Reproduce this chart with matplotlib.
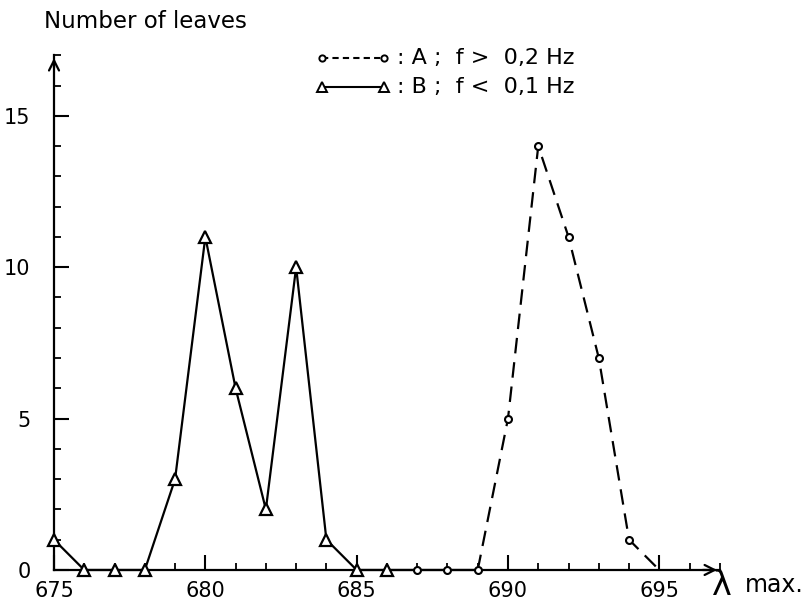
import matplotlib
matplotlib.use("Agg")
import matplotlib.pyplot as plt
from matplotlib.ticker import MultipleLocator

# series B (triangles, solid line)
b_x = [675, 676, 677, 678, 679, 680, 681, 682, 683, 684, 685, 686]
b_y = [1, 0, 0, 0, 3, 11, 6, 2, 10, 1, 0, 0]

# series A (circles, dashed line)
a_x = [687, 688, 689, 690, 691, 692, 693, 694, 695]
a_y = [0, 0, 0, 5, 14, 11, 7, 1, 0]

plt.rcParams["font.family"] = ["DejaVu Sans"]

fig = plt.figure(figsize=(8.11, 6.07), dpi=100)
ax = fig.add_axes([0.0666, 0.061, 0.821, 0.848])

lw = 1.6
# solid part joining the zero points between the two groups
ax.plot(b_x + a_x[:3], b_y + a_y[:3], color="black", lw=lw, zorder=2, clip_on=False)
ax.plot(a_x[2:], a_y[2:], color="black", lw=lw, dashes=(7, 4), zorder=2, clip_on=False)

ax.plot(b_x, b_y, ls="none", marker="^", ms=8, mfc="white", mec="black", mew=1.6,
        zorder=3, clip_on=False)
ax.plot(a_x[:-1], a_y[:-1], ls="none", marker="o", ms=5, mfc="white", mec="black", mew=1.5,
        zorder=3, clip_on=False)

ax.set_xlim(675, 697)
ax.set_ylim(0, 17)
for s in ["top", "right"]:
    ax.spines[s].set_visible(False)
for s in ["left", "bottom"]:
    ax.spines[s].set_linewidth(1.6)

ax.xaxis.set_minor_locator(MultipleLocator(1))
ax.yaxis.set_minor_locator(MultipleLocator(1))
ax.set_xticks([675, 680, 685, 690, 695])
ax.set_yticks([0, 5, 10, 15])
ax.tick_params(which="major", direction="in", length=11, width=1.5, labelsize=15)
ax.tick_params(which="minor", direction="in", length=5, width=1.3)
ax.tick_params(axis="y", which="major", pad=17)
ax.tick_params(axis="x", which="major", pad=8)

# arrow heads on the axes
ax.annotate("", xy=(1.0, 0), xytext=(0.97, 0), xycoords="axes fraction",
            arrowprops=dict(arrowstyle="->", lw=1.6, color="black", mutation_scale=18))
ax.annotate("", xy=(0, 1.0), xytext=(0, 0.97), xycoords="axes fraction",
            arrowprops=dict(arrowstyle="->", lw=1.6, color="black", mutation_scale=18))

fig.text(0.054, 0.965, "Number of leaves", fontsize=16.5, va="center", ha="left")
fig.text(0.878, 0.036, "λ", fontsize=24, va="center", ha="left")
fig.text(0.918, 0.036, "max.", fontsize=17, va="center", ha="left")

# legend drawn as text rows with small sample lines
leg_x0, leg_x1 = 0.397, 0.473
for yy, style, mk, ms, label in [(0.905, (0, (3, 2)), "o", 4.5, ": A ;  f >  0,2 Hz"),
                                 (0.856, "-", "^", 7, ": B ;  f <  0,1 Hz")]:
    fig.lines.append(plt.Line2D([leg_x0, leg_x1], [yy, yy], transform=fig.transFigure,
                                color="black", lw=1.5, ls=style, marker=mk, ms=ms,
                                mfc="white", mec="black", mew=1.4))
    fig.text(leg_x1 + 0.016, yy, label, fontsize=16, va="center", ha="left")

fig.savefig("out.png", dpi=100)
